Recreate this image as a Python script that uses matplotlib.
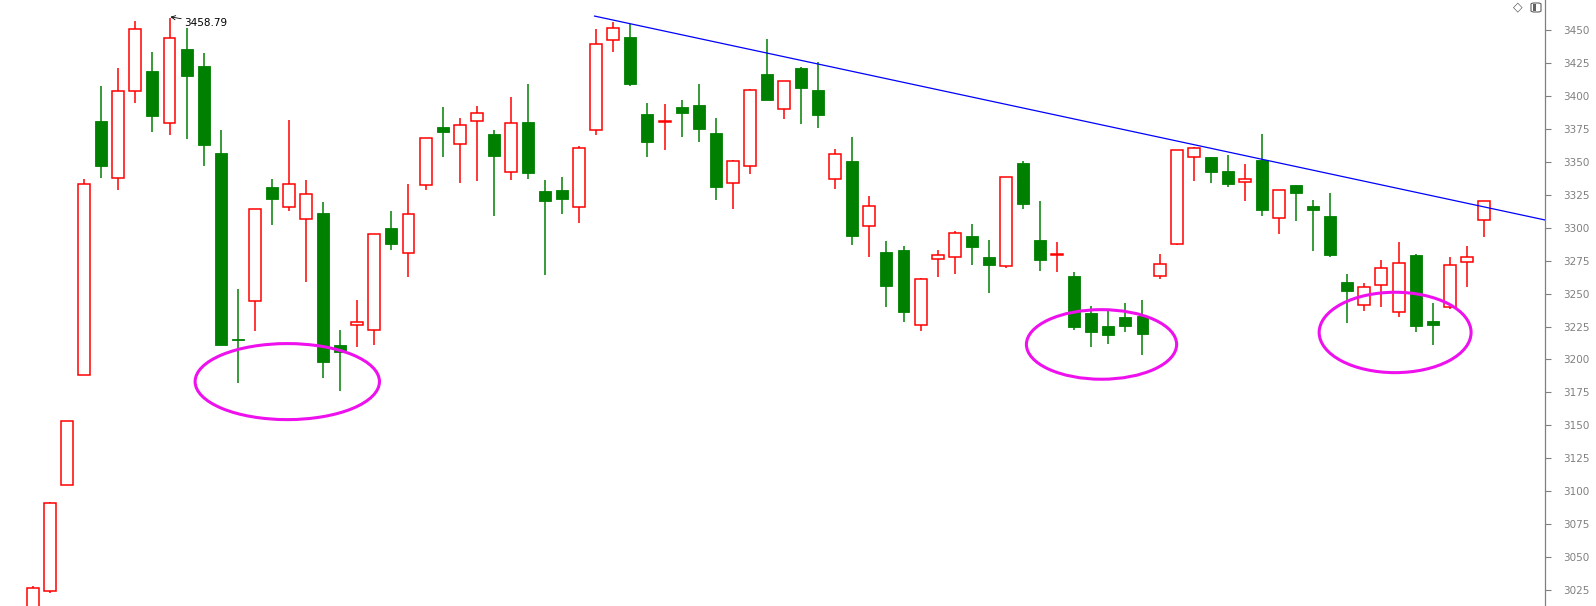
import numpy as np
import matplotlib
matplotlib.use('Agg')
import matplotlib.pyplot as plt
from matplotlib.patches import Ellipse, FancyBboxPatch, Rectangle

# daily OHLC (red = up, green = down)
opens = [3000, 3024.4, 3104.7, 3188.3, 3381.1, 3337.5, 3403.7, 3418.9, 3379.1, 3435.6,
         3422.7, 3356.8, 3215.5, 3244.6, 3330.7, 3315.5, 3306.4, 3311.4, 3211.1, 3226.1,
         3222.3, 3299.6, 3280.6, 3332.2, 3376.4, 3363.2, 3380.8, 3370.9, 3342.1, 3380.0,
         3328.1, 3328.7, 3315.5, 3374.1, 3442.4, 3444.7, 3386.4, 3380.0, 3391.7, 3393.1,
         3372.0, 3333.6, 3346.5, 3416.9, 3390.0, 3421.0, 3404.3, 3336.9, 3350.6, 3301.1,
         3281.8, 3282.7, 3226.1, 3276.2, 3277.7, 3293.5, 3278.0, 3270.9, 3349.2, 3290.9,
         3279.3, 3263.6, 3234.9, 3225.5, 3232.5, 3233.1, 3263.3, 3287.6, 3353.6, 3353.9,
         3343.3, 3334.5, 3351.5, 3307.3, 3332.2, 3316.4, 3308.7, 3258.6, 3241.3, 3256.6,
         3236.0, 3279.1, 3229.0, 3239.6, 3273.9, 3305.5]
highs = [3028, 3092.0, 3153.4, 3337.2, 3407.5, 3421.3, 3457.0, 3433.3, 3458.79, 3451.8,
         3432.7, 3374.4, 3253.6, 3314.0, 3337.2, 3382.0, 3336.3, 3319.6, 3222.6, 3245.4,
         3295.3, 3312.8, 3333.4, 3367.9, 3391.7, 3383.5, 3392.6, 3374.4, 3399.3, 3409.3,
         3336.3, 3338.6, 3361.8, 3450.9, 3456.2, 3454.7, 3394.6, 3394.0, 3397.0, 3409.3,
         3383.5, 3351.5, 3405.5, 3443.3, 3411.0, 3422.2, 3426.0, 3359.7, 3369.1, 3324.3,
         3290.0, 3286.2, 3262.1, 3283.2, 3297.3, 3302.9, 3290.9, 3338.3, 3350.6, 3320.5,
         3289.4, 3266.0, 3240.2, 3238.4, 3243.1, 3245.4, 3280.3, 3358.9, 3361.5, 3354.0,
         3355.3, 3348.6, 3371.2, 3328.4, 3332.2, 3321.0, 3326.6, 3264.8, 3258.3, 3275.6,
         3289.4, 3280.3, 3243.1, 3278.0, 3286.2, 3320.2]
lows = [2995, 3022.7, 3104.7, 3188.3, 3337.5, 3328.4, 3394.3, 3372.9, 3370.0, 3367.1,
        3346.5, 3210.8, 3181.8, 3221.7, 3301.7, 3312.3, 3258.6, 3185.6, 3176.0, 3209.4,
        3210.8, 3283.0, 3262.4, 3328.4, 3353.3, 3334.2, 3335.1, 3308.7, 3336.3, 3336.6,
        3263.9, 3310.2, 3303.2, 3370.0, 3433.6, 3407.2, 3353.3, 3358.6, 3368.5, 3364.7,
        3320.8, 3314.0, 3340.4, 3396.7, 3382.3, 3378.5, 3375.3, 3329.0, 3286.5, 3277.4,
        3239.6, 3228.1, 3221.7, 3262.4, 3264.5, 3271.8, 3250.5, 3269.2, 3314.0, 3266.8,
        3266.2, 3222.3, 3209.4, 3211.4, 3220.5, 3203.2, 3261.0, 3286.5, 3335.1, 3333.6,
        3330.7, 3319.9, 3308.7, 3295.0, 3304.9, 3282.0, 3277.4, 3227.6, 3236.6, 3239.6,
        3232.0, 3220.5, 3210.8, 3238.4, 3254.8, 3292.6]
closes = [3026.8, 3091.3, 3153.4, 3333.1, 3346.5, 3403.7, 3450.6, 3384.4, 3443.8, 3415.4,
          3362.4, 3210.8, 3215.0, 3314.0, 3321.6, 3333.1, 3325.4, 3198.0, 3205.9, 3228.4,
          3295.3, 3287.3, 3310.2, 3367.9, 3372.3, 3377.9, 3387.0, 3354.7, 3379.4, 3341.3,
          3319.9, 3321.6, 3360.3, 3439.2, 3451.5, 3408.7, 3364.7, 3381.0, 3386.7, 3374.7,
          3330.7, 3350.4, 3404.3, 3396.7, 3411.0, 3405.7, 3385.8, 3355.9, 3293.5, 3316.4,
          3255.4, 3235.8, 3261.3, 3279.1, 3295.8, 3285.0, 3271.5, 3338.3, 3317.8, 3275.3,
          3280.0, 3224.3, 3220.5, 3218.5, 3225.2, 3219.0, 3272.4, 3358.9, 3360.3, 3341.9,
          3332.8, 3336.9, 3313.1, 3328.4, 3326.0, 3313.1, 3279.1, 3251.6, 3254.8, 3269.5,
          3273.0, 3225.2, 3225.8, 3271.5, 3277.7, 3320.2]

# resistance line (index, price) and the three marked zones
trend_x = [32.9, 88.6]
trend_y = [3460.6, 3305.8]
zone_x = [14.9, 62.6, 79.8]
zone_y = [3183.2, 3211.4, 3220.5]
zone_w = [10.8, 8.8, 8.9]
zone_h = [57.7, 52.8, 61.0]

yticks = list(range(3025, 3451, 25))

W, H = 1596, 606
fig = plt.figure(figsize=(W / 100, H / 100), dpi=100)
ax = fig.add_axes([0, 0, 1545 / W, 1])

o = np.array(opens)
h = np.array(highs)
l = np.array(lows)
c = np.array(closes)
x = np.arange(len(o))
up = c >= o
RED = '#ff0000'
GREEN = '#008000'
bw = 0.70

for i in x:
    col = RED if up[i] else GREEN
    ax.vlines(i, l[i], h[i], color=col, lw=1.1, zorder=2)
    bot = min(o[i], c[i])
    ht = max(abs(c[i] - o[i]), 0.9)
    if up[i]:
        ax.bar(i, ht, bottom=bot, width=bw, facecolor='white', edgecolor=RED,
               linewidth=1.1, zorder=3)
    else:
        ax.bar(i, ht, bottom=bot, width=bw, facecolor=GREEN, edgecolor=GREEN,
               linewidth=0.6, zorder=3)

ax.plot(trend_x, trend_y, color='#0000ff', lw=0.9, zorder=4)

for ex, ey, ew, eh in zip(zone_x, zone_y, zone_w, zone_h):
    ax.add_patch(Ellipse((ex, ey), ew, eh, fill=False, edgecolor='#ee11ee',
                         lw=2.2, zorder=5))

# high marker
ax.annotate('3458.79', xy=(8.05, 3460.0), xytext=(8.85, 3455.5),
            fontsize=7.5, color='black', va='center', ha='left',
            arrowprops=dict(arrowstyle='->', color='black', lw=0.6,
                            shrinkA=0, shrinkB=0))

ax.set_xlim(-1.93, 88.58)
ax.set_ylim(3012.9, 3472.8)
ax.set_yticks(yticks)
ax.set_xticks([])
for s in ['left', 'top', 'bottom']:
    ax.spines[s].set_visible(False)
ax.spines['right'].set_color('#808080')
ax.spines['right'].set_linewidth(0.9)
ax.yaxis.tick_right()
ax.tick_params(axis='y', colors='#808080', length=4.3, width=0.8, pad=8.5,
               labelsize=7.5)

# small toolbar icons top right
fig.text(1517.5 / W, 1 - 7 / H, '\u25c7', color='#606060', fontsize=9,
         ha='center', va='center')
icon = FancyBboxPatch((1531 / W, 1 - 12 / H), 10 / W, 9 / H,
                      boxstyle='round,pad=0,rounding_size=0.002',
                      transform=fig.transFigure, facecolor='white',
                      edgecolor='#606060', lw=0.8)
fig.patches.append(icon)
fig.patches.append(Rectangle((1532.5 / W, 1 - 10.5 / H), 3.5 / W, 6 / H,
                             transform=fig.transFigure, facecolor='#606060',
                             edgecolor='none'))

fig.savefig('out.png', dpi=100)
